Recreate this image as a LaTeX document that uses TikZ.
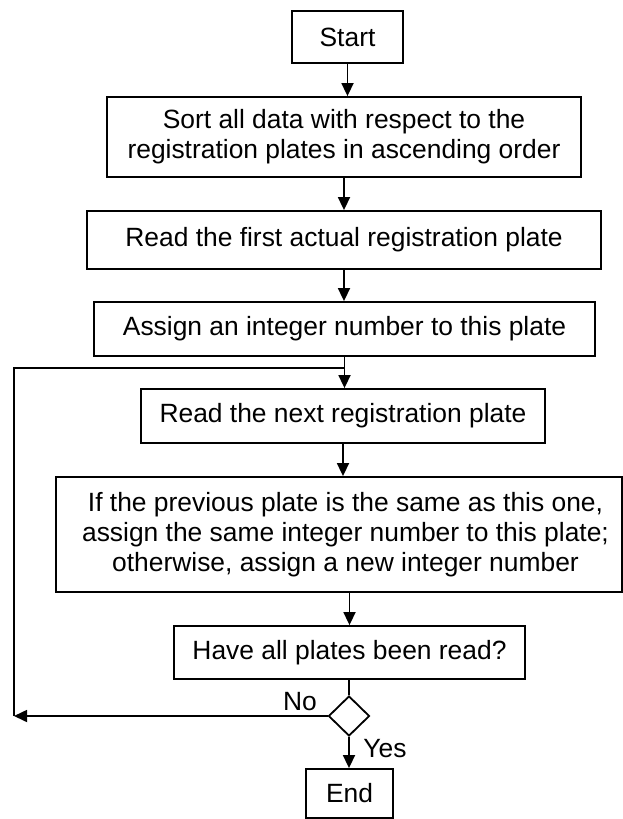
\documentclass[tikz,border=0pt]{standalone}
\usepackage{fontspec}
\setmainfont{Liberation Sans}
\usetikzlibrary{arrows.meta,shapes.geometric}
\begin{document}
\begin{tikzpicture}[x=0.75pt,y=-0.75pt,
  every node/.style={font=\fontsize{19.8pt}{22.5pt}\selectfont},
  stepbox/.style={draw,line width=1.35pt,inner sep=0pt,align=center},
  txt/.style={inner sep=0pt,align=center},
  arr/.style={line width=1.35pt,-{Triangle[length=9.8pt,width=9pt]}},
  ln/.style={line width=1.35pt}]
\useasboundingbox (0,0) rectangle (623,819);
\node[stepbox,minimum width=83.25pt,minimum height=39pt] (start) at (347.5,37) {Start};
\node[stepbox,minimum width=355.5pt,minimum height=60pt] (sort) at (344,137) {Sort all data with respect to the\\registration plates in ascending order};
\node[stepbox,minimum width=385.5pt,minimum height=43.5pt] (first) at (344,240) {Read the first actual registration plate};
\node[stepbox,minimum width=375.75pt,minimum height=40.5pt] (assign) at (344.5,329) {Assign an integer number to this plate};
\node[stepbox,minimum width=303pt,minimum height=40.5pt] (next) at (343,416) {Read the next registration plate};
\node[stepbox,minimum width=424.5pt,minimum height=86.25pt] (ifbox) at (339,534.5) {};
\node[txt] (iftext) at (345.5,534.5) {If the previous plate is the same as this one,\\assign the same integer number to this plate;\\otherwise, assign a new integer number};
\node[stepbox,minimum width=263.25pt,minimum height=39.75pt] (have) at (349.5,652.5) {Have all plates been read?};
\node[draw,line width=1.35pt,diamond,inner sep=0pt,minimum width=30.75pt,minimum height=30pt] (dia) at (349,716) {};
\node[stepbox,minimum width=65.25pt,minimum height=36.75pt] (end) at (349.5,793.5) {End};
\node[txt] (no) at (300,702) {No};
\node[txt] (yes) at (385,749) {Yes};
\coordinate (loopL) at (14,716);
\coordinate (loopT) at (14,368);
\draw[arr] (start.south) -- (start.south |- sort.north);
\draw[arr] (sort.south) -- (sort.south |- first.north);
\draw[arr] (first.south) -- (first.south |- assign.north);
\draw[arr] (assign.south) -- (assign.south |- next.north);
\draw[arr] (next.south) -- (next.south |- ifbox.north);
\draw[arr] (have.north |- ifbox.south) -- (have.north);
\draw[ln] (have.south -| dia.north) -- (dia.north);
\draw[arr] (dia.south) -- (dia.south |- end.north);
\draw[arr] (dia.west) -- (loopL);
\draw[ln] (loopL) -- (loopT) -- (loopT -| assign.south);
\end{tikzpicture}
\end{document}
